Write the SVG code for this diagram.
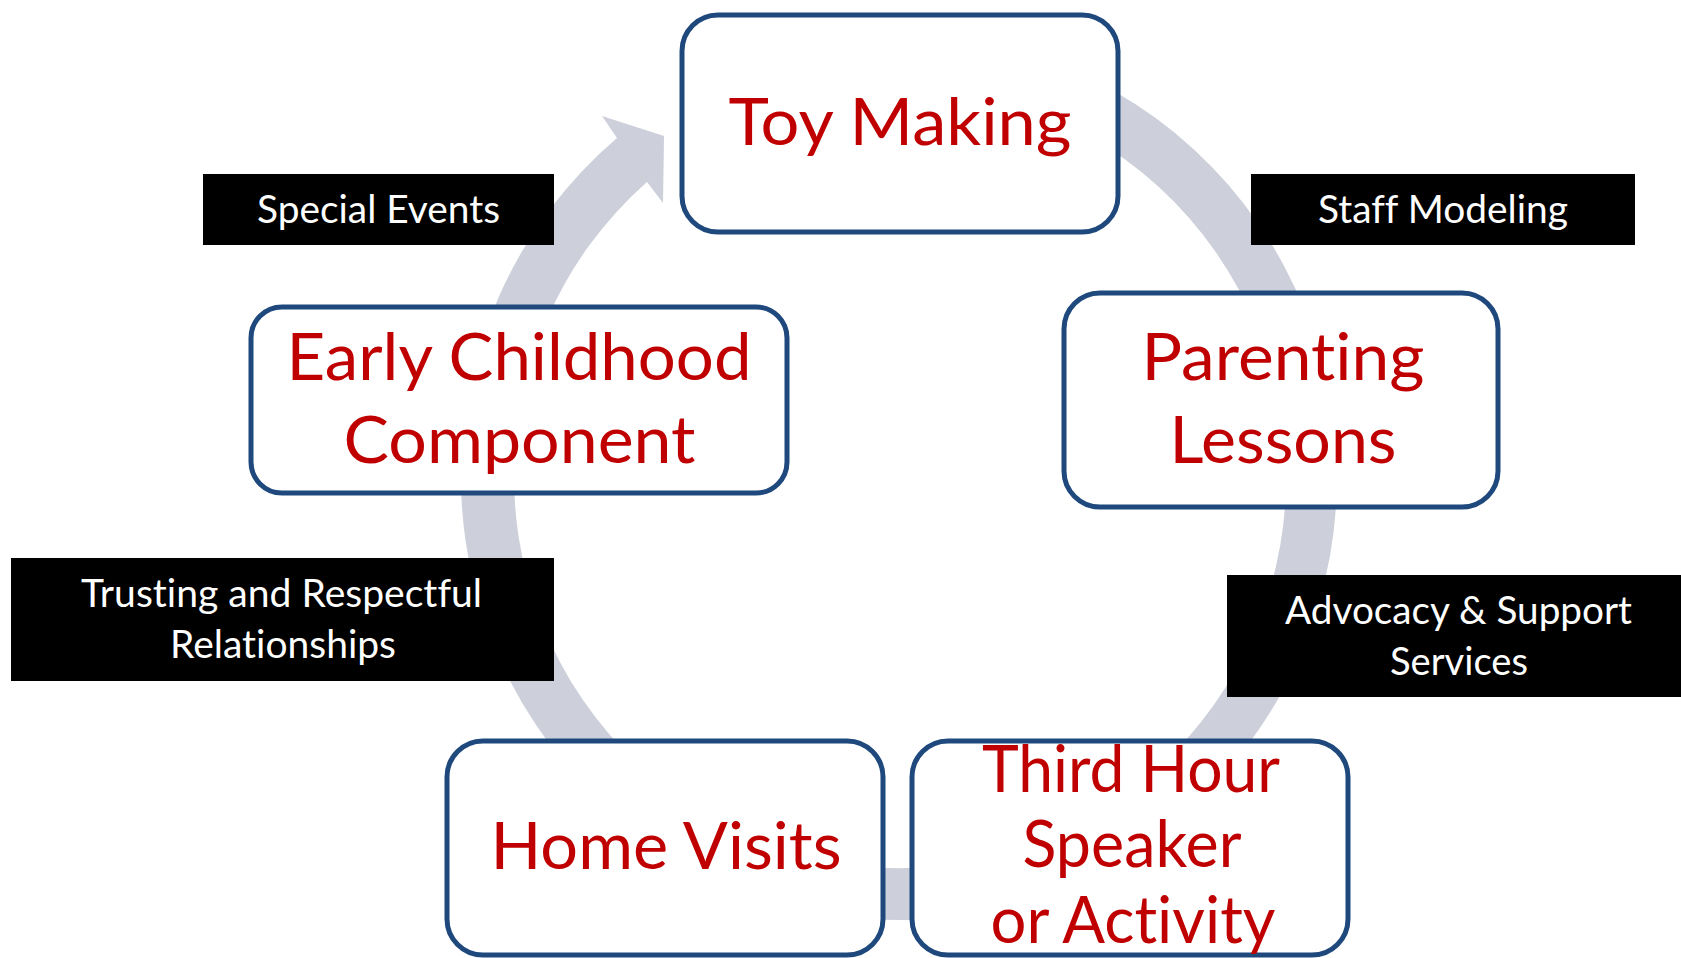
<svg xmlns="http://www.w3.org/2000/svg" width="1681" height="958" viewBox="0 0 1681 958">
  <style>
    .step { fill: #ffffff; stroke: #1f497d; stroke-width: 5; }
    .step-text { font-family: Lato, "Open Sans", sans-serif; font-size: 66px; fill: #c00000; text-anchor: middle; font-variant-ligatures: none; }
    .tag { fill: #000000; }
    .tag-text { font-family: Lato, "Open Sans", sans-serif; font-size: 38px; fill: #ffffff; text-anchor: middle; font-variant-ligatures: none; }
    .cycle { fill: #cdd0da; }
  </style>
  <rect width="1681" height="958" fill="#ffffff"/>

  <!-- circular arrow running clockwise behind the steps -->
  <g id="connectors">
    <path class="cycle" d="M 975.06 40.73 A 438 443 0 1 1 617 138 L 602 116 L 664 136 L 663 203 L 647 182 A 386 391 0 1 0 966.03 91.94 Z"/>
  </g>

  <!-- steps of the cycle -->
  <g id="toy-making">
    <rect class="step" x="682" y="15" width="436" height="217" rx="36" ry="36"/>
    <text class="step-text" x="900" y="145" textLength="343" lengthAdjust="spacingAndGlyphs">Toy Making</text>
  </g>
  <g id="parenting-lessons">
    <rect class="step" x="1064" y="293" width="434" height="214" rx="36" ry="36"/>
    <text class="step-text" x="1283" y="380" textLength="283" lengthAdjust="spacingAndGlyphs">Parenting</text>
    <text class="step-text" x="1283" y="463" textLength="227" lengthAdjust="spacingAndGlyphs">Lessons</text>
  </g>
  <g id="third-hour">
    <rect class="step" x="912" y="741" width="436" height="214" rx="36" ry="36"/>
    <text class="step-text" x="1131" y="792" textLength="298" lengthAdjust="spacingAndGlyphs">Third Hour</text>
    <text class="step-text" x="1132" y="867" textLength="219" lengthAdjust="spacingAndGlyphs">Speaker</text>
    <text class="step-text" x="1133" y="943" textLength="285" lengthAdjust="spacingAndGlyphs">or Activity</text>
  </g>
  <g id="home-visits">
    <rect class="step" x="447" y="741" width="436" height="214" rx="36" ry="36"/>
    <text class="step-text" x="666" y="869" textLength="351" lengthAdjust="spacingAndGlyphs">Home Visits</text>
  </g>
  <g id="early-childhood">
    <rect class="step" x="251" y="307" width="536" height="186" rx="31" ry="31"/>
    <text class="step-text" x="519" y="380" textLength="465" lengthAdjust="spacingAndGlyphs">Early Childhood</text>
    <text class="step-text" x="519.5" y="463" textLength="352" lengthAdjust="spacingAndGlyphs">Component</text>
  </g>

  <!-- black labels between the steps -->
  <g id="special-events">
    <rect class="tag" x="203" y="174" width="351" height="71"/>
    <text class="tag-text" x="378.5" y="223" textLength="243" lengthAdjust="spacingAndGlyphs">Special Events</text>
  </g>
  <g id="staff-modeling">
    <rect class="tag" x="1251" y="174" width="384" height="71"/>
    <text class="tag-text" x="1443" y="223" textLength="250" lengthAdjust="spacingAndGlyphs">Staff Modeling</text>
  </g>
  <g id="trusting-relationships">
    <rect class="tag" x="11" y="558" width="543" height="123"/>
    <text class="tag-text" x="281.6" y="607" textLength="401" lengthAdjust="spacingAndGlyphs">Trusting and Respectful</text>
    <text class="tag-text" x="283" y="658" textLength="226" lengthAdjust="spacingAndGlyphs">Relationships</text>
  </g>
  <g id="advocacy-support">
    <rect class="tag" x="1227" y="575" width="454" height="122"/>
    <text class="tag-text" x="1458.5" y="624" textLength="347" lengthAdjust="spacingAndGlyphs">Advocacy &amp; Support</text>
    <text class="tag-text" x="1459" y="675" textLength="138" lengthAdjust="spacingAndGlyphs">Services</text>
  </g>
</svg>
